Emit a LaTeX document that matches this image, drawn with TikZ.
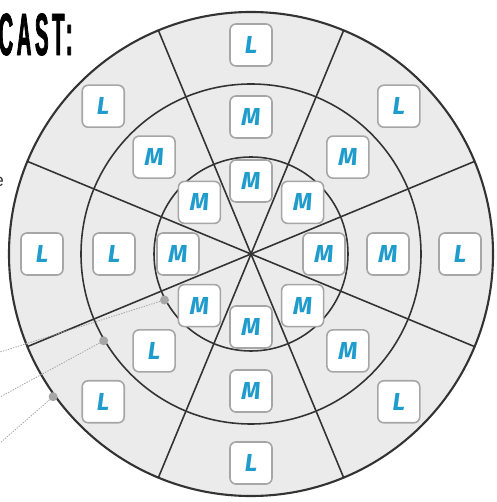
\documentclass[tikz,border=0pt]{standalone}
\usepackage{fontspec}
\setmainfont{Liberation Sans}
\newfontfamily\castfont[FakeStretch=0.34,FakeBold=1.2,LetterSpace=6]{Liberation Sans}
\newfontfamily\tagfont{Fira Sans}
\definecolor{markblue}{RGB}{32,156,204}

\begin{document}
\begin{tikzpicture}[x=0.2mm,y=0.2mm,line cap=round,line join=round,
  ring/.style={draw=black!80,line width=0.9pt},
  tag/.style={draw=black!35,line width=0.9pt,fill=white,rounded corners=1.2mm,
    minimum size=8.4mm,inner sep=0pt,text=markblue,
    font=\tagfont\bfseries\itshape\fontsize{14}{14}\selectfont},
  pin/.style={circle,fill=black!35,inner sep=0pt,minimum size=1.8mm},
  leader/.style={draw=black!35,densely dotted,line width=0.5pt}]
  \useasboundingbox (-251,-248) rectangle (245,254);
  % target: disc, eight spokes, three rings
  \fill[black!8] (0,0) circle (242);
  \foreach \a in {22.5,67.5,...,337.5}
    \draw[ring] (0,0) -- (\a:242);
  \draw[ring] (0,0) circle (97);
  \draw[ring] (0,0) circle (170);
  \draw[ring,line width=1.2pt] (0,0) circle (242);
  % tags, inner ring out to outer ring
  \foreach \a [count=\k] in {90,45,...,-225}
    \node[tag] (in\k) at (\a:73) {M};
  \foreach \a/\t [count=\k] in {90/M,45/M,0/M,-45/M,-90/M,-135/L,180/L,135/M}
    \node[tag] (mid\k) at (\a:137) {\t};
  \foreach \a [count=\k] in {90,45,...,-225}
    \node[tag] (out\k) at (\a:209) {L};
  % leaders to the rings
  \coordinate (endA) at (-251,-98);
  \coordinate (endB) at (-251,-143);
  \coordinate (endC) at (-251,-189);
  \node[pin] (pinA) at (208:98) {};
  \node[pin] (pinB) at (210.5:171) {};
  \node[pin] (pinC) at (215.8:244) {};
  \draw[leader] (pinA) -- (endA);
  \draw[leader] (pinB) -- (endB);
  \draw[leader] (pinC) -- (endC);
  % heading, cut at the left edge
  \node[anchor=north east,inner sep=0pt,
    font=\castfont\bfseries\fontsize{34}{34}\selectfont] (title) at (-178,241) {ECAST:};
  \node[inner sep=0pt,text=black!80,font=\fontsize{10}{10}\selectfont] (cut) at (-252,72) {e};
\end{tikzpicture}
\end{document}
